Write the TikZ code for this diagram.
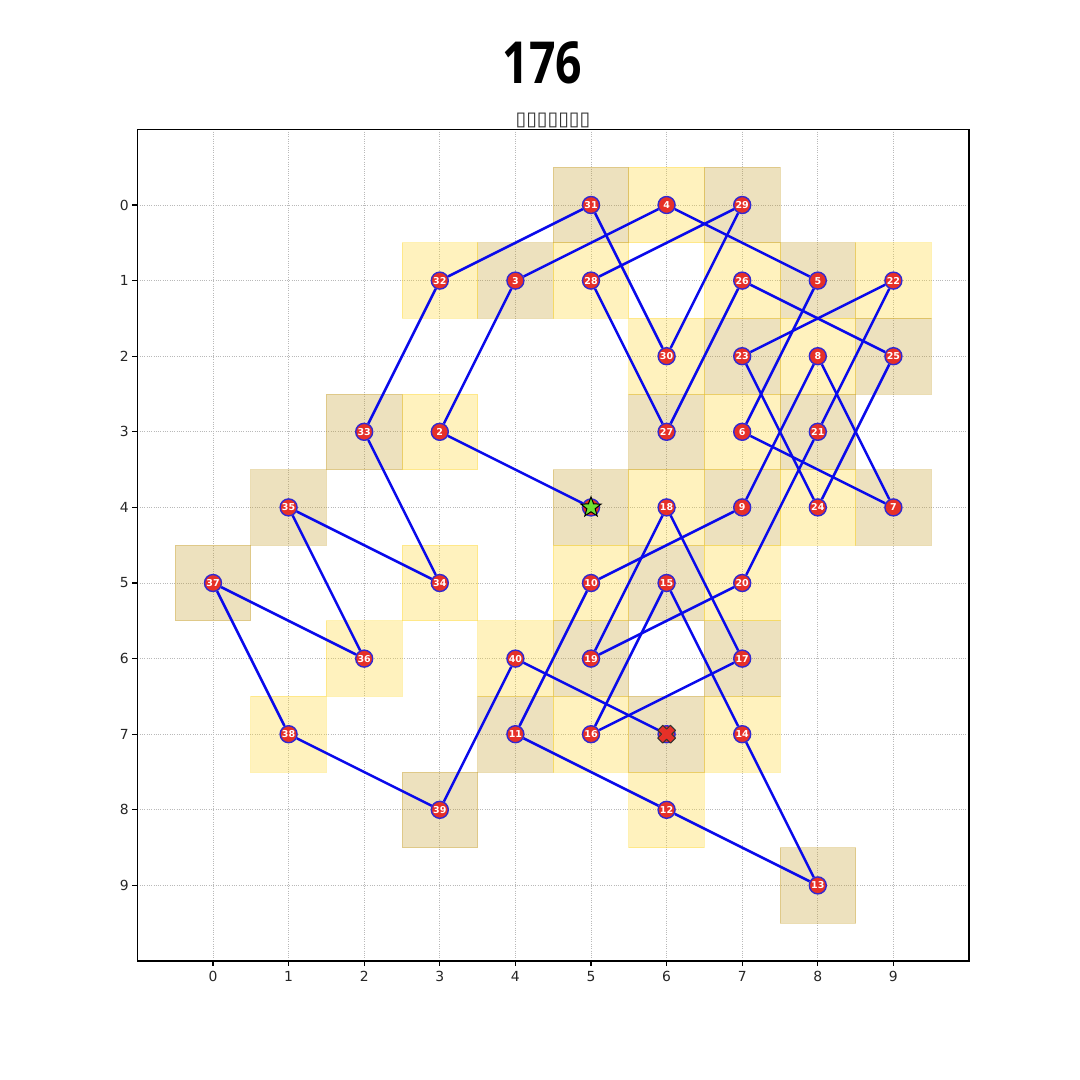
\documentclass[tikz,border=0pt]{standalone}
\usepackage{fontspec}
\setmainfont{DejaVu Sans}
\newfontfamily\titlefont{Open Sans}
\usetikzlibrary{shapes.geometric}
\definecolor{cellyellow}{RGB}{255,215,40}
\definecolor{celltan}{RGB}{198,158,40}
\definecolor{nodered}{RGB}{230,48,40}
\definecolor{nodeedge}{RGB}{50,40,210}
\definecolor{pathblue}{RGB}{10,10,235}
\definecolor{startgreen}{RGB}{110,225,50}
\tikzset{
  gridline/.style={gray!55, line width=0.8pt, dash pattern=on 0.9pt off 1.4pt},
  axisline/.style={black, line width=1.1pt},
  ticklabel/.style={font=\fontsize{13.9}{16}\selectfont, inner sep=0pt, text=black!85},
  cellY/.style={fill=cellyellow, fill opacity=0.3, draw=cellyellow, draw opacity=0.35, line width=0.8pt},
  cellT/.style={fill=celltan, fill opacity=0.3, draw=celltan, draw opacity=0.35, line width=0.8pt},
  tournode/.style={circle, fill=nodered, draw=nodeedge, line width=1.4pt, minimum size=17pt, inner sep=0pt,
    text=white, font=\bfseries\fontsize{9.5}{10}\selectfont},
  tourpath/.style={pathblue, line width=2.5pt},
  startstar/.style={star, star points=5, star point ratio=2.4, fill=startgreen, draw=black, line width=1pt,
    minimum size=21pt, inner sep=0pt},
  endx/.style={fill=nodered, draw=black!80, line width=1pt, line join=round}
}
\begin{document}
\begin{tikzpicture}[x=1pt,y=-1pt]
\useasboundingbox (0,0) rectangle (1080,1080);
\fill[white] (0,0) rectangle (1080,1080);
\node[font=\titlefont\bfseries\fontsize{58}{60}\selectfont, inner sep=0pt, anchor=base] (title) at (542.5,83.3) {\scalebox{0.8}[1]{176}};
\node[font=\fontsize{19.4}{21}\selectfont, inner sep=0pt, anchor=base, text=black!80] (subtitle) at (553,125) {▯▯▯▯▯▯▯};
\begin{scope}[shift={(213,205)}, x=75.6pt, y=-75.6pt]
  % grid
  \foreach \i in {0,...,9} {
    \draw[gridline] (\i,-1) -- (\i,10);
    \draw[gridline] (-1,\i) -- (10,\i);
  }
  % cells
  \foreach \n/\c/\r in {1/5/4,2/3/3,3/4/1,4/6/0,5/8/1,6/7/3,7/9/4,8/8/2,9/7/4,10/5/5,11/4/7,12/6/8,13/8/9,14/7/7,15/6/5,16/5/7,17/7/6,18/6/4,19/5/6,20/7/5,21/8/3,22/9/1,23/7/2,24/8/4,25/9/2,26/7/1,27/6/3,28/5/1,29/7/0,30/6/2,31/5/0,32/3/1,33/2/3,34/3/5,35/1/4,36/2/6,37/0/5,38/1/7,39/3/8,40/4/6,41/6/7} {
    \pgfmathtruncatemacro{\cellpar}{mod(\c+\r,2)}
    \ifnum\cellpar=0
      \path[cellY] (\c-0.5,\r-0.5) rectangle (\c+0.5,\r+0.5);
    \else
      \path[cellT] (\c-0.5,\r-0.5) rectangle (\c+0.5,\r+0.5);
    \fi
  }
  % frame and ticks
  \draw[axisline] (-1,-1) rectangle (10,10);
  \foreach \i in {0,...,9} {
    \draw[axisline] (\i,10) -- ++(0pt,-5pt);
    \draw[axisline] (-1,\i) -- ++(-5pt,0pt);
    \node[ticklabel, anchor=base] (xt\i) at ([yshift=-20pt]\i,10) {\i};
    \node[ticklabel, anchor=east] (yt\i) at ([xshift=-8.6pt]-1,\i) {\i};
  }
  % tour nodes
  \node[tournode] (n1) at (5,4) {};
  \node[tournode] (n41) at (6,7) {};
  \foreach \n/\c/\r in {2/3/3,3/4/1,4/6/0,5/8/1,6/7/3,7/9/4,8/8/2,9/7/4,10/5/5,11/4/7,12/6/8,13/8/9,14/7/7,15/6/5,16/5/7,17/7/6,18/6/4,19/5/6,20/7/5,21/8/3,22/9/1,23/7/2,24/8/4,25/9/2,26/7/1,27/6/3,28/5/1,29/7/0,30/6/2,31/5/0,32/3/1,33/2/3,34/3/5,35/1/4,36/2/6,37/0/5,38/1/7,39/3/8,40/4/6} {
    \node[tournode] (n\n) at (\c,\r) {\n};
  }
  % tour path
  \foreach \a [evaluate=\a as \b using int(\a+1)] in {1,...,40} {
    \draw[tourpath] (n\a) -- (n\b);
  }
  % start and end markers
  \node[startstar] (startmark) at (n1) {};
  \begin{scope}[shift={(n41.center)}, rotate=45]
    \filldraw[endx] (-3.6pt,-9pt) -- (3.6pt,-9pt) -- (3.6pt,-3.6pt) -- (9pt,-3.6pt) -- (9pt,3.6pt) -- (3.6pt,3.6pt)
      -- (3.6pt,9pt) -- (-3.6pt,9pt) -- (-3.6pt,3.6pt) -- (-9pt,3.6pt) -- (-9pt,-3.6pt) -- (-3.6pt,-3.6pt) -- cycle;
  \end{scope}
\end{scope}
\end{tikzpicture}
\end{document}
